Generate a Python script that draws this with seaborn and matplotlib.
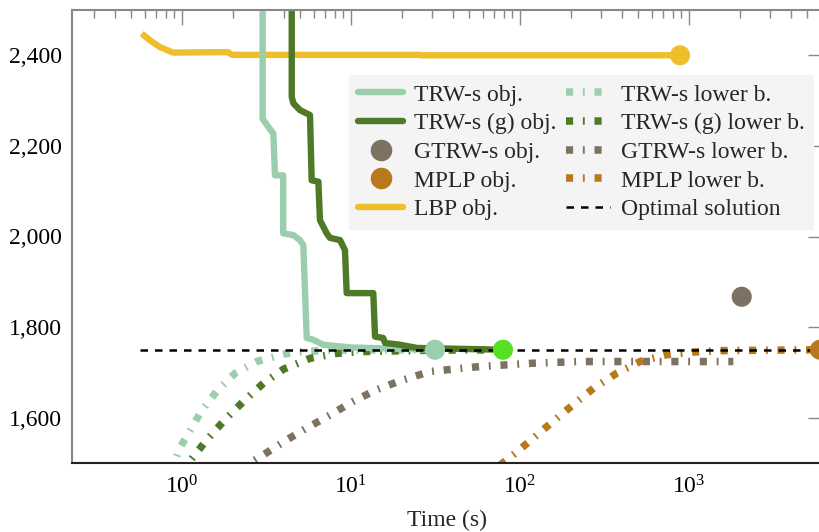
import matplotlib
matplotlib.use("Agg")
import matplotlib.pyplot as plt
from matplotlib.lines import Line2D
from matplotlib.ticker import FuncFormatter, LogLocator
import numpy as np
import pandas as pd
import seaborn as sns

sns.set_theme(style="white")
plt.rcParams["font.family"] = ["Liberation Serif", "DejaVu Serif"]
plt.rcParams["mathtext.fontset"] = "custom"
plt.rcParams["mathtext.rm"] = "Liberation Serif"
plt.rcParams["mathtext.it"] = "Liberation Serif:italic"

# objective curves (time in s, energy)
trws_t = [3.0, 3.0, 3.24, 3.47, 3.55, 3.97, 3.97, 4.56, 4.99, 5.22, 5.47, 5.98, 6.86, 10.0, 31.4]
trws_y = [2600, 2260, 2242, 2227, 2135, 2135, 2007, 2003, 1992, 1981, 1776, 1772, 1761, 1755, 1750]

trwsg_t = [4.46, 4.46, 4.56, 4.99, 5.72, 5.85, 6.41, 6.55, 7.18, 7.51, 8.61, 9.21, 9.43,
           13.55, 13.87, 15.5, 15.9, 19.5, 24.5, 79.3]
trwsg_y = [2600, 2308, 2294, 2279, 2268, 2124, 2121, 2036, 2007, 1997, 1992, 1970, 1875,
           1875, 1779, 1776, 1765, 1761, 1754, 1750]

lbp_t = [0.578, 0.647, 0.741, 0.885, 1.87, 1.98, 25.6, 26.0, 885]
lbp_y = [2448, 2433, 2418, 2406, 2407, 2401, 2401, 2400, 2400]

# lower bounds
trws_lb_t = [0.86, 0.97, 1.28, 1.60, 2.06, 2.77, 3.98, 4.77, 7.5, 31.4]
trws_lb_y = [1480, 1533, 1610, 1658, 1698, 1724, 1740, 1745, 1749, 1750]

trwsg_lb_t = [0.99, 1.09, 1.40, 1.80, 2.31, 3.03, 3.98, 5.72, 8.23, 11.8, 30, 79.3]
trwsg_lb_y = [1480, 1500, 1551, 1596, 1636, 1676, 1707, 1731, 1742, 1746, 1749, 1750]

gtrws_lb_t = [2.2, 2.53, 3.03, 4.16, 5.47, 7.51, 10.3, 14.2, 19.1, 29.3, 58, 115, 226, 885, 1829]
gtrws_lb_y = [1488, 1500, 1518, 1551, 1577, 1606, 1636, 1662, 1680, 1702, 1713, 1720, 1724, 1724, 1724]

mplp_lb_t = [76, 91.2, 120, 157, 207, 272, 373, 513, 738, 1061, 1525, 6040]
mplp_lb_y = [1495, 1518, 1555, 1592, 1629, 1665, 1698, 1724, 1739, 1745, 1748, 1750]

optimal_t = [0.564, 6040]
optimal_y = [1750, 1750]

# final objective points
final_names = ["TRW-s", "TRW-s (g)", "GTRW-s", "MPLP", "LBP"]
final_t = [31.4, 79.3, 2051, 5960, 885]
final_y = [1750, 1750, 1867, 1750, 2400]

c_trws = "#9BCEAC"
c_trwsg = "#4E7A27"
c_gtrws = "#7D7262"
c_mplp = "#B8791C"
c_lbp = "#EFBE2B"
c_final = [c_trws, "#56E024", c_gtrws, c_mplp, c_lbp]

lw = 4.6
lw_lb = 5.4
dashdot = (0.95, 1.3, 0.25, 1.3)
opt_dash = (3.0, 2.8)

fig = plt.figure(figsize=(8.19, 5.32), dpi=100)
ax = fig.add_axes([72 / 819, 69 / 532, 750 / 819, 453 / 532])

def draw(t, y, color, dashes=None, width=lw):
    g = sns.lineplot(x=t, y=y, ax=ax, color=color, linewidth=width,
                     estimator=None, sort=False)
    line = g.lines[-1]
    line.set_solid_capstyle("butt")
    if dashes is not None:
        line.set_dashes(dashes)
        line.set_dash_capstyle("butt")

draw(trws_lb_t, trws_lb_y, c_trws, dashdot, lw_lb)
draw(trwsg_lb_t, trwsg_lb_y, c_trwsg, dashdot, lw_lb)
draw(gtrws_lb_t, gtrws_lb_y, c_gtrws, dashdot, lw_lb)
draw(mplp_lb_t, mplp_lb_y, c_mplp, dashdot, lw_lb)
draw(lbp_t, lbp_y, c_lbp)
draw(trws_t, trws_y, c_trws)
draw(trwsg_t, trwsg_y, c_trwsg)
draw(optimal_t, optimal_y, "black", opt_dash, width=1.8)

finals = pd.DataFrame({"name": final_names, "t": final_t, "y": final_y})
sns.scatterplot(data=finals, x="t", y="y", hue="name", palette=c_final,
                s=210, linewidth=0, legend=False, ax=ax, zorder=5)

ax.set_xscale("log")
ax.set_xlim(10 ** -0.651, 10 ** 3.787)
ax.set_ylim(1500, 2500)
ax.set_yticks([1600, 1800, 2000, 2200, 2400])
ax.yaxis.set_major_formatter(FuncFormatter(lambda v, p: f"{v:,.0f}"))
ax.xaxis.set_major_locator(LogLocator(base=10, numticks=10))
ax.xaxis.set_minor_locator(LogLocator(base=10, subs=np.arange(2, 10), numticks=20))
ax.set_xlabel("Time (s)", fontsize=17, labelpad=8)
ax.set_ylabel("")

ax.tick_params(axis="both", which="both", direction="in", colors="#888888",
               labelcolor="black", labelsize=17, top=True, right=True)
ax.tick_params(axis="x", which="major", length=11, width=1.0, pad=9)
ax.tick_params(axis="x", which="minor", length=6, width=1.0)
ax.tick_params(axis="y", which="major", length=10, width=1.0, pad=7)
for side in ["left", "top", "right"]:
    ax.spines[side].set_color("#888888")
    ax.spines[side].set_linewidth(1.5)
ax.spines["bottom"].set_color("#222222")
ax.spines["bottom"].set_linewidth(1.5)

handles = [
    Line2D([], [], color=c_trws, lw=lw),
    Line2D([], [], color=c_trwsg, lw=lw),
    Line2D([], [], color=c_gtrws, lw=0, marker="o", markersize=14.5),
    Line2D([], [], color=c_mplp, lw=0, marker="o", markersize=14.5),
    Line2D([], [], color=c_lbp, lw=lw),
    Line2D([], [], color=c_trws, lw=lw_lb, dashes=dashdot, dash_capstyle="butt"),
    Line2D([], [], color=c_trwsg, lw=lw_lb, dashes=dashdot, dash_capstyle="butt"),
    Line2D([], [], color=c_gtrws, lw=lw_lb, dashes=dashdot, dash_capstyle="butt"),
    Line2D([], [], color=c_mplp, lw=lw_lb, dashes=dashdot, dash_capstyle="butt"),
    Line2D([], [], color="black", lw=1.8, dashes=opt_dash),
]
labels = ["TRW-s obj.", "TRW-s (g) obj.", "GTRW-s obj.", "MPLP obj.", "LBP obj.",
          "TRW-s lower b.", "TRW-s (g) lower b.", "GTRW-s lower b.", "MPLP lower b.",
          "Optimal solution"]
leg = ax.legend(handles, labels, ncol=2, loc="upper left", bbox_to_anchor=(0.369, 0.857),
                borderaxespad=0, fontsize=17, frameon=True, fancybox=False,
                facecolor="#F4F4F4", edgecolor="none", framealpha=1,
                handlelength=1.9, handletextpad=0.45, columnspacing=0.4,
                labelspacing=0.3, borderpad=0.4)
leg.set_zorder(6)

fig.savefig("out.png", dpi=100)
